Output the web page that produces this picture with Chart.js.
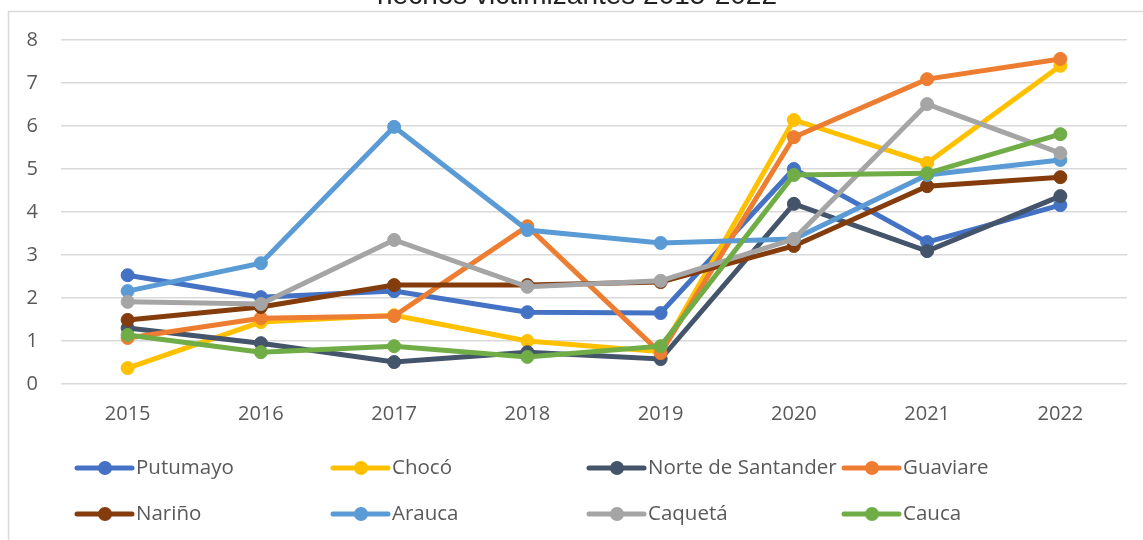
<!DOCTYPE html>
<html>
<head>
<meta charset="utf-8">
<script src="https://cdn.jsdelivr.net/npm/chart.js@4.4.0/dist/chart.umd.min.js"></script>
<style>
  html, body { margin: 0; padding: 0; background: #fff; }
  #wrap { width: 1143px; height: 540px; position: relative; }
</style>
</head>
<body>
<div id="wrap"><canvas id="chart" width="1143" height="540"></canvas></div>
<script>
// --- Data ---
const years = ['2015', '2016', '2017', '2018', '2019', '2020', '2021', '2022'];
const yTicks = [0, 1, 2, 3, 4, 5, 6, 7, 8];
const titleText = 'hechos victimizantes 2015-2022';

const putumayo = [2.53, 2.02, 2.16, 1.67, 1.65, 5.00, 3.30, 4.16];
const choco    = [0.37, 1.44, 1.60, 1.00, 0.75, 6.14, 5.14, 7.40];
const norte    = [1.30, 0.95, 0.51, 0.74, 0.58, 4.19, 3.09, 4.37];
const guaviare = [1.07, 1.53, 1.58, 3.67, 0.72, 5.74, 7.09, 7.56];
const narino   = [1.49, 1.79, 2.30, 2.30, 2.37, 3.21, 4.60, 4.81];
const arauca   = [2.16, 2.81, 5.98, 3.58, 3.28, 3.37, 4.86, 5.21];
const caqueta  = [1.91, 1.86, 3.35, 2.26, 2.40, 3.37, 6.51, 5.37];
const cauca    = [1.14, 0.74, 0.88, 0.63, 0.88, 4.86, 4.90, 5.81];

const seriesNames  = ['Putumayo', 'Chocó', 'Norte de Santander', 'Guaviare', 'Nariño', 'Arauca', 'Caquetá', 'Cauca'];
const seriesValues = [putumayo, choco, norte, guaviare, narino, arauca, caqueta, cauca];
const seriesColors = ['#4472C4', '#FFC000', '#44546A', '#ED7D31', '#843C0C', '#5B9BD5', '#A5A5A5', '#70AD47'];

// --- Style ---
const TEXT_COLOR = '#595959';
const GRID_COLOR = '#D9D9D9';
const FONT = '"Open Sans", sans-serif';

// --- Background, frame and title ---
const framePlugin = {
  id: 'frame',
  beforeDraw(chart) {
    const ctx = chart.ctx;
    ctx.save();
    ctx.fillStyle = '#fff';
    ctx.fillRect(0, 0, chart.width, chart.height);
    ctx.strokeStyle = GRID_COLOR;
    ctx.lineWidth = 1.5;
    ctx.beginPath();
    ctx.moveTo(8.5, chart.height);
    ctx.lineTo(8.5, 11.5);
    ctx.lineTo(chart.width, 11.5);
    ctx.stroke();
    ctx.fillStyle = '#222';
    ctx.font = '28px "Liberation Sans", Arial, sans-serif';
    ctx.textAlign = 'center';
    ctx.textBaseline = 'alphabetic';
    ctx.fillText(titleText, 577, 4);
    ctx.restore();
  }
};

// --- Legend in fixed columns ---
const legendPlugin = {
  id: 'gridLegend',
  afterDraw(chart) {
    const ctx = chart.ctx;
    const colX = [77, 333, 589, 844];
    const rowY = [468, 514];
    ctx.save();
    chart.data.datasets.forEach((ds, i) => {
      const x = colX[i % 4];
      const y = rowY[Math.floor(i / 4)];
      ctx.strokeStyle = ds.borderColor;
      ctx.lineWidth = 5;
      ctx.lineCap = 'round';
      ctx.beginPath();
      ctx.moveTo(x, y);
      ctx.lineTo(x + 55, y);
      ctx.stroke();
      ctx.fillStyle = ds.borderColor;
      ctx.beginPath();
      ctx.arc(x + 28, y, 7, 0, Math.PI * 2);
      ctx.fill();
      ctx.fillStyle = TEXT_COLOR;
      ctx.font = '20.5px ' + FONT;
      ctx.textAlign = 'left';
      ctx.textBaseline = 'middle';
      ctx.fillText(ds.label, x + 59, y);
    });
    ctx.restore();
  }
};

// --- Chart ---
const datasets = seriesNames.map((name, i) => ({
  label: name,
  data: seriesValues[i],
  borderColor: seriesColors[i],
  backgroundColor: seriesColors[i],
  pointBackgroundColor: seriesColors[i],
  pointBorderColor: seriesColors[i],
  borderWidth: 5,
  pointRadius: 6.5,
  pointBorderWidth: 1,
  tension: 0,
  fill: false,
  order: seriesNames.length - i,
}));

new Chart(document.getElementById('chart'), {
  type: 'line',
  data: { labels: years, datasets },
  options: {
    responsive: false,
    animation: false,
    devicePixelRatio: 1,
    layout: { padding: { left: 8, right: 16, top: 40, bottom: 106 } },
    plugins: { legend: { display: false }, tooltip: { enabled: false }, title: { display: false } },
    scales: {
      x: {
        offset: true,
        grid: { display: false, drawTicks: false },
        border: { display: false },
        ticks: { color: TEXT_COLOR, font: { family: FONT, size: 20 }, padding: 18, maxRotation: 0 },
        afterFit(scale) { scale.height = 50; }
      },
      y: {
        min: 0,
        max: 8,
        afterBuildTicks(scale) { scale.ticks = yTicks.map(v => ({ value: v })); },
        grid: { color: GRID_COLOR, lineWidth: 1.5, drawTicks: false },
        border: { display: false },
        ticks: { color: TEXT_COLOR, font: { family: FONT, size: 20 }, padding: 23 },
        afterFit(scale) { scale.width = 53; }
      }
    }
  },
  plugins: [framePlugin, legendPlugin]
});
</script>
</body>
</html>
